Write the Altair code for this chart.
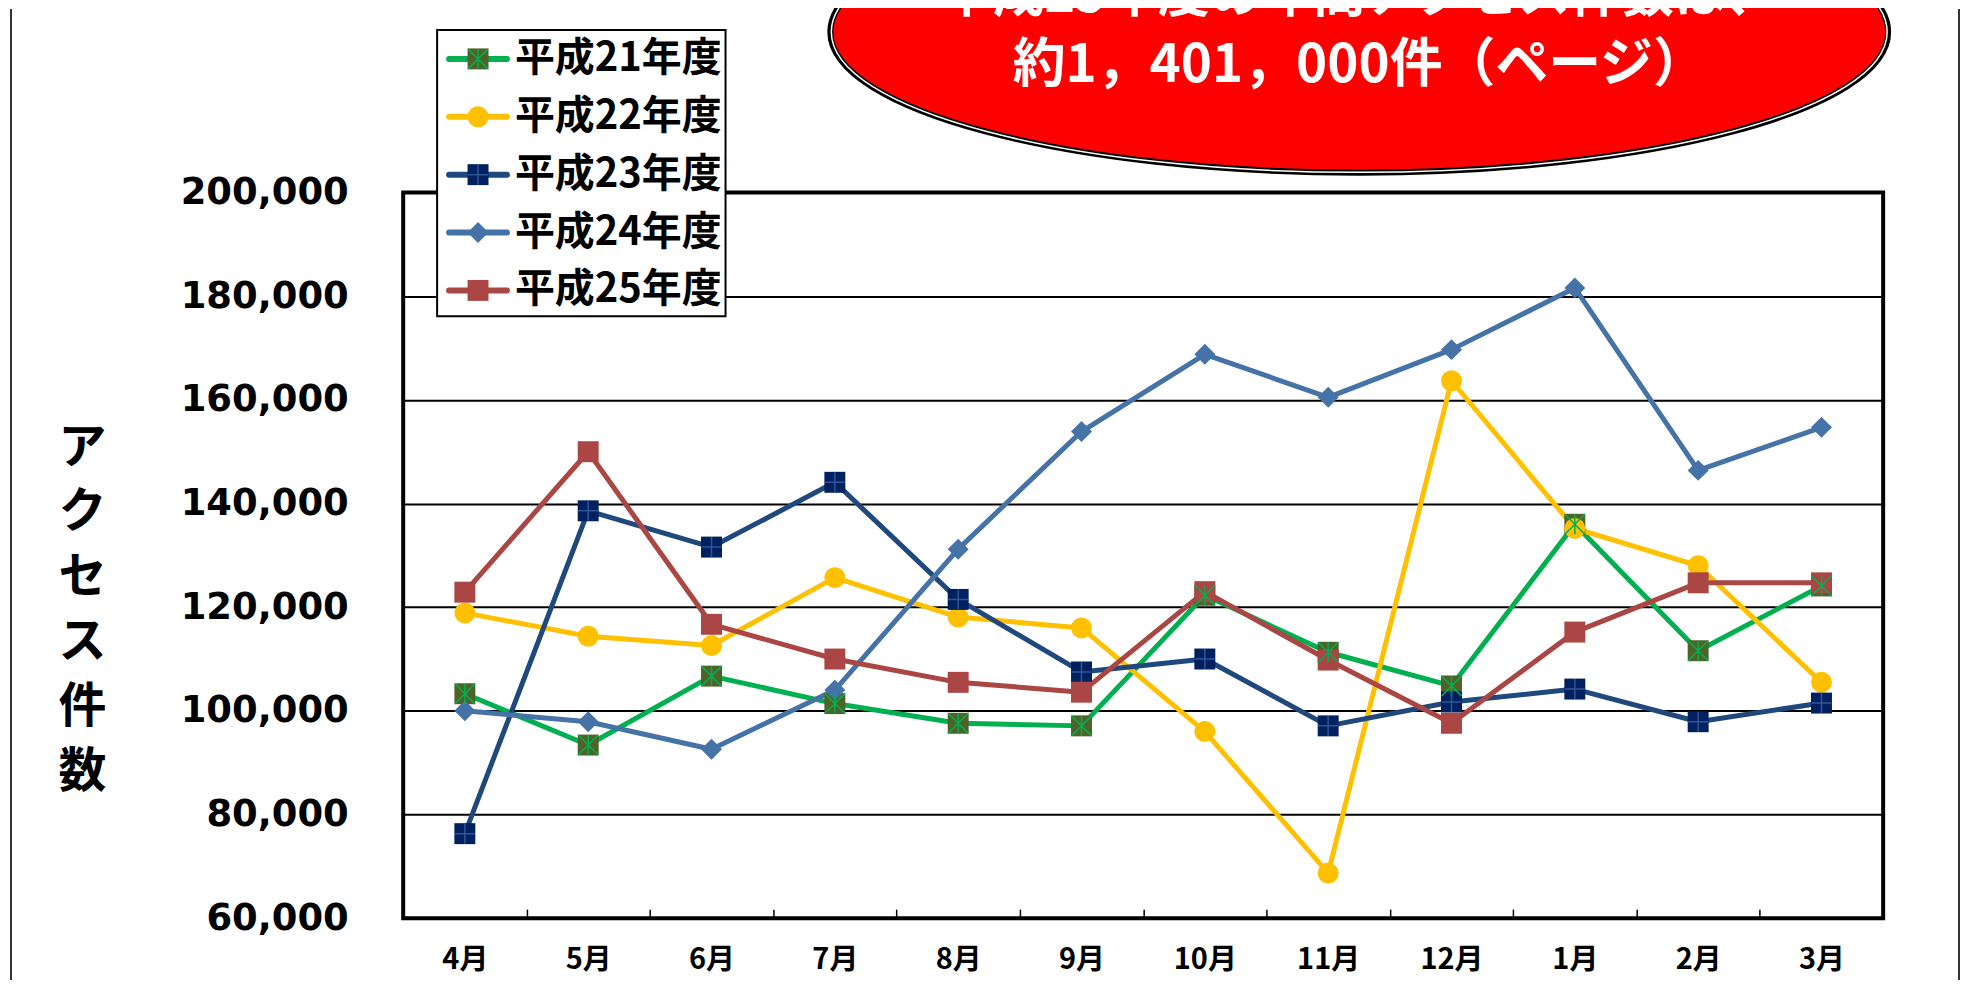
import altair as alt
import pandas as pd

# ---------------- data ----------------
months = ["4月", "5月", "6月", "7月", "8月", "9月", "10月", "11月", "12月", "1月", "2月", "3月"]
series_names = ["平成21年度", "平成22年度", "平成23年度", "平成24年度", "平成25年度"]

h21 = [103300, 93400, 106700, 101400, 97600, 97100, 122300, 111300, 104800, 136000, 111600, 124100]
h22 = [118900, 114400, 112600, 125700, 118100, 116000, 96000, 68700, 163700, 135200, 128000, 105500]
h23 = [76300, 138600, 131600, 144100, 121500, 107500, 110000, 97100, 101700, 104200, 97900, 101500]
h24 = [100000, 97900, 92600, 104000, 131200, 153900, 168800, 160500, 169700, 181600, 146400, 154700]
h25 = [122900, 150000, 116700, 110000, 105500, 103600, 123000, 109800, 97600, 115200, 124700, 124700]

y_ticks = [60000, 80000, 100000, 120000, 140000, 160000, 180000, 200000]
y_title = ["ア", "ク", "セ", "ス", "件", "数"]
banner_line1 = "平成25年度の年間アクセス件数は、"
banner_line2 = "約1，401，000件（ページ）"

# ---------------- styles / layout ----------------
line_colors = ["#00B050", "#FFC000", "#1F497D", "#4572A7", "#AA4643"]
marker_fills = ["#4F6228", "#FFC000", "#002060", "#4572A7", "#AA4643"]
marker_shapes = ["square", "circle", "square", "diamond", "square"]
marker_sizes = [441, 441, 441, 520, 441]

PLOT_W, PLOT_H = 1483, 727
Y_MIN, Y_MAX = 60000, 200000

K = 0.5523
R = 0.266
ELLIPSE = (f"M -1 0 C -1 {-K*R:.4f} {-K} {-R} 0 {-R} C {K} {-R} 1 {-K*R:.4f} 1 0 "
           f"C 1 {K*R:.4f} {K} {R} 0 {R} C {-K} {R} -1 {K*R:.4f} -1 0 Z")
X_MARK = "M -1 -1 L 1 1 M 1 -1 L -1 1 M 0 -1 L 0 1"
PLUS_MARK = "M 0 -1 L 0 1 M -1 0 L 1 0"

rows = []
for name, vals in zip(series_names, [h21, h22, h23, h24, h25]):
    for m, v in zip(months, vals):
        rows.append({"series": name, "month": m, "value": v})
df = pd.DataFrame(rows)

# legend rows (pixel rows converted to data units of the shared y scale)
LEG_Y0, LEG_DY = -134, 58
leg_df = pd.DataFrame({
    "series": series_names,
    "value": [Y_MAX - (LEG_Y0 + i * LEG_DY) / PLOT_H * (Y_MAX - Y_MIN) for i in range(len(series_names))],
})
one = pd.DataFrame({"k": [0]})

color_scale = alt.Scale(domain=series_names, range=line_colors)
fill_scale = alt.Scale(domain=series_names, range=marker_fills)
shape_scale = alt.Scale(domain=series_names, range=marker_shapes)
size_scale = alt.Scale(domain=series_names, range=marker_sizes)

x_enc = alt.X(
    "month:N", sort=months, bandPosition=0.5,
    scale=alt.Scale(type="band", paddingInner=0, paddingOuter=0),
    axis=alt.Axis(
        title=None, orient="bottom", domain=False, grid=False,
        ticks=True, tickBand="extent", tickSize=9, tickColor="black", tickWidth=1.5,
        offset=-9, labelAngle=0, labelFont="Noto Sans CJK JP", labelFontSize=29,
        labelFontWeight="bold", labelColor="black", labelPadding=27,
    ),
)
y_enc = alt.Y(
    "value:Q",
    scale=alt.Scale(domain=[Y_MIN, Y_MAX], nice=False, zero=False),
    axis=alt.Axis(
        values=y_ticks, format=",.0f", domain=False, ticks=False, tickSize=0,
        grid=True, gridColor="black", gridWidth=2, gridOpacity=1,
        labelFont="DejaVu Sans", labelFontSize=37, labelFontWeight="bold",
        labelColor="black", labelPadding=55,
        title=y_title, titleAngle=0, titleX=-322, titleY=256,
        titleAlign="center", titleBaseline="middle", titleLineHeight=65,
        titleFont="Noto Sans CJK JP", titleFontSize=48, titleFontWeight="bold",
        titleColor="black",
    ),
)

base = alt.Chart(df)

lines = base.mark_line(strokeWidth=5, strokeJoin="round", strokeCap="round").encode(
    x=x_enc, y=y_enc, color=alt.Color("series:N", scale=color_scale, legend=None)
)
markers = base.mark_point(filled=True, opacity=1, strokeWidth=0).encode(
    x=x_enc, y=y_enc,
    shape=alt.Shape("series:N", scale=shape_scale, legend=None),
    fill=alt.Fill("series:N", scale=fill_scale, legend=None),
    size=alt.Size("series:O", scale=size_scale, legend=None),
)
x_over = base.transform_filter(alt.datum.series == series_names[0]).mark_point(
    shape=X_MARK, filled=False, color="#00B050", strokeWidth=1.5, size=400, opacity=1
).encode(x=x_enc, y=y_enc)
p_over = base.transform_filter(alt.datum.series == series_names[2]).mark_point(
    shape=PLUS_MARK, filled=False, color="#2E5597", strokeWidth=1.5, size=400, opacity=1
).encode(x=x_enc, y=y_enc)

# legend
leg = alt.Chart(leg_df)
leg_box = alt.Chart(one).mark_rect(fill="white", stroke="black", strokeWidth=2).encode(
    x=alt.value(34), x2=alt.value(323), y=alt.value(-163), y2=alt.value(124)
)
leg_line = leg.mark_rule(strokeWidth=6, strokeCap="round").encode(
    x=alt.value(46), x2=alt.value(104), y=alt.Y("value:Q"),
    color=alt.Color("series:N", scale=color_scale, legend=None),
)
leg_mark = leg.mark_point(filled=True, opacity=1, strokeWidth=0).encode(
    x=alt.value(75), y=alt.Y("value:Q"),
    shape=alt.Shape("series:N", scale=shape_scale, legend=None),
    fill=alt.Fill("series:N", scale=fill_scale, legend=None),
    size=alt.Size("series:O", scale=size_scale, legend=None),
)
leg_x = leg.transform_filter(alt.datum.series == series_names[0]).mark_point(
    shape=X_MARK, filled=False, color="#00B050", strokeWidth=1.5, size=400, opacity=1
).encode(x=alt.value(75), y=alt.Y("value:Q"))
leg_p = leg.transform_filter(alt.datum.series == series_names[2]).mark_point(
    shape=PLUS_MARK, filled=False, color="#2E5597", strokeWidth=1.5, size=400, opacity=1
).encode(x=alt.value(75), y=alt.Y("value:Q"))
leg_text = leg.mark_text(
    align="left", baseline="middle", font="Noto Sans CJK JP", fontSize=40,
    fontWeight="bold", color="black"
).encode(x=alt.value(112), y=alt.Y("value:Q"), text="series:N")

# banner ellipse
ell = alt.Chart(one).mark_point(
    shape=ELLIPSE, filled=True, fill="#FF0000", stroke="black", strokeWidth=6,
    size=1060 ** 2, opacity=1
).encode(x=alt.value(958), y=alt.value(-161))
ell_in = alt.Chart(one).mark_point(
    shape=ELLIPSE, filled=False, stroke="white", strokeWidth=1.5,
    size=1058 ** 2, opacity=1
).encode(x=alt.value(958), y=alt.value(-161))
ban1 = alt.Chart(one).mark_text(
    font="Noto Sans CJK JP", fontSize=52, fontWeight="bold", color="white",
    align="center", baseline="middle"
).encode(x=alt.value(958), y=alt.value(-197), text=alt.value(banner_line1))
ban2 = alt.Chart(one).mark_text(
    font="Noto Sans CJK JP", fontSize=53, fontWeight="bold", color="white",
    align="center", baseline="middle"
).encode(x=alt.value(958), y=alt.value(-127), text=alt.value(banner_line2))

# outer chart-area frame
frame_l = alt.Chart(one).mark_rule(color="#333333", strokeWidth=2).encode(
    x=alt.value(-393), y=alt.value(-184), y2=alt.value(790)
)
frame_r = alt.Chart(one).mark_rule(color="#333333", strokeWidth=2).encode(
    x=alt.value(1559), y=alt.value(-184), y2=alt.value(790)
)

chart = alt.layer(
    frame_l, frame_r, leg_box, lines, markers, x_over, p_over,
    leg_line, leg_mark, leg_x, leg_p, leg_text, ell, ell_in, ban1, ban2,
).properties(
    width=PLOT_W, height=PLOT_H,
    autosize=alt.AutoSizeParams(type="none"),
    padding={"left": 396, "top": 184, "right": 77, "bottom": 61},
    background="white",
).configure_view(stroke="black", strokeWidth=4)

chart.save("out.html", embed_options={"renderer": "svg", "actions": False})
